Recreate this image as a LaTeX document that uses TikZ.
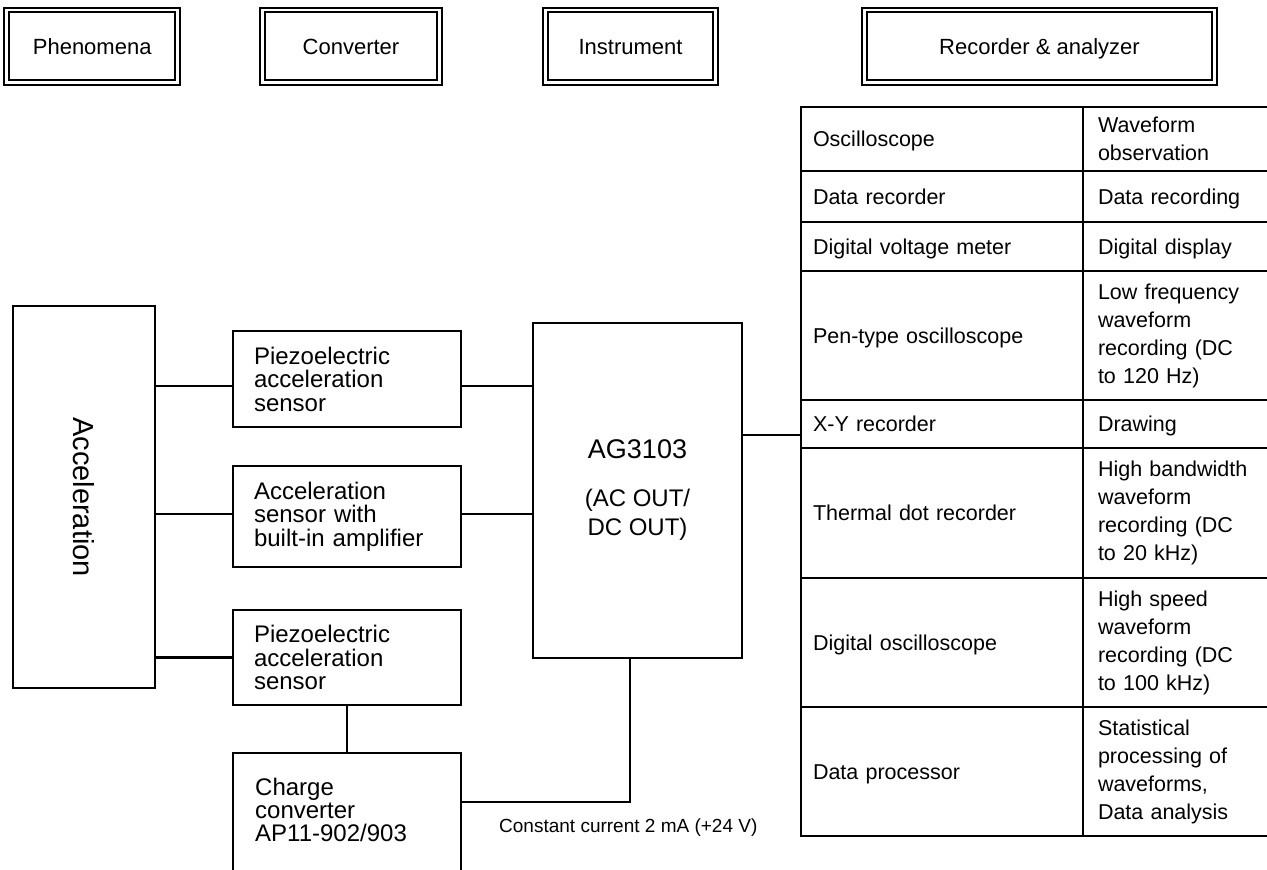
\documentclass[tikz,border=0pt]{standalone}
\usepackage{fontspec}
\setmainfont{Liberation Sans}
\usetikzlibrary{positioning}

\begin{document}
\begin{tikzpicture}[
        x = 1pt, y = -1pt,
        headbox/.style = {draw, double, line width = 2pt, double distance = 2.7pt,
            minimum height = 72.7pt, inner sep = 0pt, text height = 16pt, text depth = 0pt,
            font = \fontsize{22}{26}\selectfont},
        unitbox/.style = {draw, line width = 1.6pt, inner sep = 0pt, outer sep = 0pt},
        sensorbox/.style = {unitbox, minimum width = 228pt, text width = 186pt,
            inner xsep = 21pt, align = left, font = \fontsize{24}{23.5}\selectfont},
        keycell/.style = {draw, line width = 2pt, anchor = north west, outer sep = 0pt,
            minimum width = 282pt, text width = 258pt, inner xsep = 12pt, inner ysep = 0pt,
            align = left, font = \fontsize{21.5}{28}\selectfont},
        usecell/.style = {keycell, minimum width = 186pt, text width = 156pt, inner xsep = 15pt},
        oneline/.style = {text height = 15.5pt, text depth = 0pt},
        wire/.style = {line width = 2.8pt}
    ]
    \useasboundingbox (0, 0) rectangle (1267, 870);

    % column headings
    \node [headbox, minimum width = 171pt] (phen) at (92.2, 46.3) {Phenomena};
    \node [headbox, minimum width = 177.4pt] (conv) at (351, 46.3) {Converter};
    \node [headbox, minimum width = 170.4pt] (inst) at (630.5, 46.3) {Instrument};
    \node [headbox, minimum width = 350.4pt] (rec) at (1039.5, 46.3) {Recorder \& analyzer};

    % phenomena and converters
    \node [unitbox, minimum width = 142pt, minimum height = 382pt,
        label = {[rotate = -90, font = \fontsize{29}{29}\selectfont]center:Acceleration}] (accel) at (84, 497) {};
    \node [sensorbox, minimum height = 96pt] (piezoA) at (347, 379) {Piezoelectric\\acceleration\\sensor};
    \node [sensorbox, minimum height = 101pt] (ampsensor) at (347, 516.5) {Acceleration\\sensor with\\built-in amplifier};
    \node [sensorbox, minimum height = 95pt] (piezoB) at (347, 657.5) {Piezoelectric\\acceleration\\sensor};
    \node [unitbox, minimum width = 228pt, minimum height = 127pt] (charge) at (347, 816.5) {};
    \node [anchor = west, inner sep = 0pt, align = left, font = \fontsize{24}{23}\selectfont] (chargetext) at (255, 810) {Charge\\converter\\AP11-902/903};

    % instrument
    \node [unitbox, minimum width = 209pt, minimum height = 335pt, align = center,
        font = \fontsize{24}{29}\selectfont] (ag) at (637.5, 490.5) {{\fontsize{27}{29}\selectfont AG3103}\\[19pt](AC OUT/\\DC OUT)};

    % recorders and analyzers
    \node [keycell, oneline, minimum height = 64pt] (osc) at (801, 107) {Oscilloscope};
    \node [usecell, minimum height = 64pt] (oscuse) at (1083, 107) {Waveform\\observation};
    \node [keycell, oneline, minimum height = 51pt] (datarec) at (801, 171) {Data recorder};
    \node [usecell, oneline, minimum height = 51pt] (datarecuse) at (1083, 171) {Data recording};
    \node [keycell, oneline, minimum height = 49pt] (dvm) at (801, 222) {Digital voltage meter};
    \node [usecell, oneline, minimum height = 49pt] (dvmuse) at (1083, 222) {Digital display};
    \node [keycell, oneline, minimum height = 129pt] (pen) at (801, 271) {Pen-type oscilloscope};
    \node [usecell, minimum height = 129pt] (penuse) at (1083, 271) {Low frequency\\waveform\\recording (DC\\to 120 Hz)};
    \node [keycell, oneline, minimum height = 48pt] (xy) at (801, 400) {X-Y recorder};
    \node [usecell, oneline, minimum height = 48pt] (xyuse) at (1083, 400) {Drawing};
    \node [keycell, oneline, minimum height = 130pt] (thermal) at (801, 448) {Thermal dot recorder};
    \node [usecell, minimum height = 130pt] (thermaluse) at (1083, 448) {High bandwidth\\waveform\\recording (DC\\to 20 kHz)};
    \node [keycell, oneline, minimum height = 129pt] (digosc) at (801, 578) {Digital oscilloscope};
    \node [usecell, minimum height = 129pt] (digoscuse) at (1083, 578) {High speed\\waveform\\recording (DC\\to 100 kHz)};
    \node [keycell, oneline, minimum height = 129pt] (dataproc) at (801, 707) {Data processor};
    \node [usecell, minimum height = 129pt] (dataprocuse) at (1083, 707) {Statistical\\processing of\\waveforms,\\Data analysis};

    % wiring
    \coordinate (piezoAin) at ([yshift = -7pt]piezoA.west);
    \coordinate (piezoAout) at ([yshift = -7pt]piezoA.east);
    \coordinate (ampin) at ([yshift = 2.5pt]ampsensor.west);
    \coordinate (ampout) at ([yshift = 2.5pt]ampsensor.east);
    \coordinate (chargeout) at ([yshift = 14.5pt]charge.east);
    \coordinate (agfeed) at ([xshift = -7.5pt]ag.south);
    \coordinate (agout) at ([yshift = 55.5pt]ag.east);
    \draw [wire] (accel.east |- piezoAin) -- (piezoAin);
    \draw [wire] (accel.east |- ampin) -- (ampin);
    \draw [wire] (accel.east |- piezoB.west) -- (piezoB.west);
    \draw [wire] (piezoAout) -- (ag.west |- piezoAout);
    \draw [wire] (ampout) -- (ag.west |- ampout);
    \draw [wire] (piezoB.south) -- (charge.north);
    \draw [wire] (chargeout) -| (agfeed);
    \draw [wire] (agout) -- (agout -| xy.west);
    \node [anchor = west, inner sep = 0pt, font = \fontsize{19}{19}\selectfont] (supply) at ([shift = {(38, 26)}]chargeout) {Constant current 2 mA (+24 V)};
\end{tikzpicture}
\end{document}
